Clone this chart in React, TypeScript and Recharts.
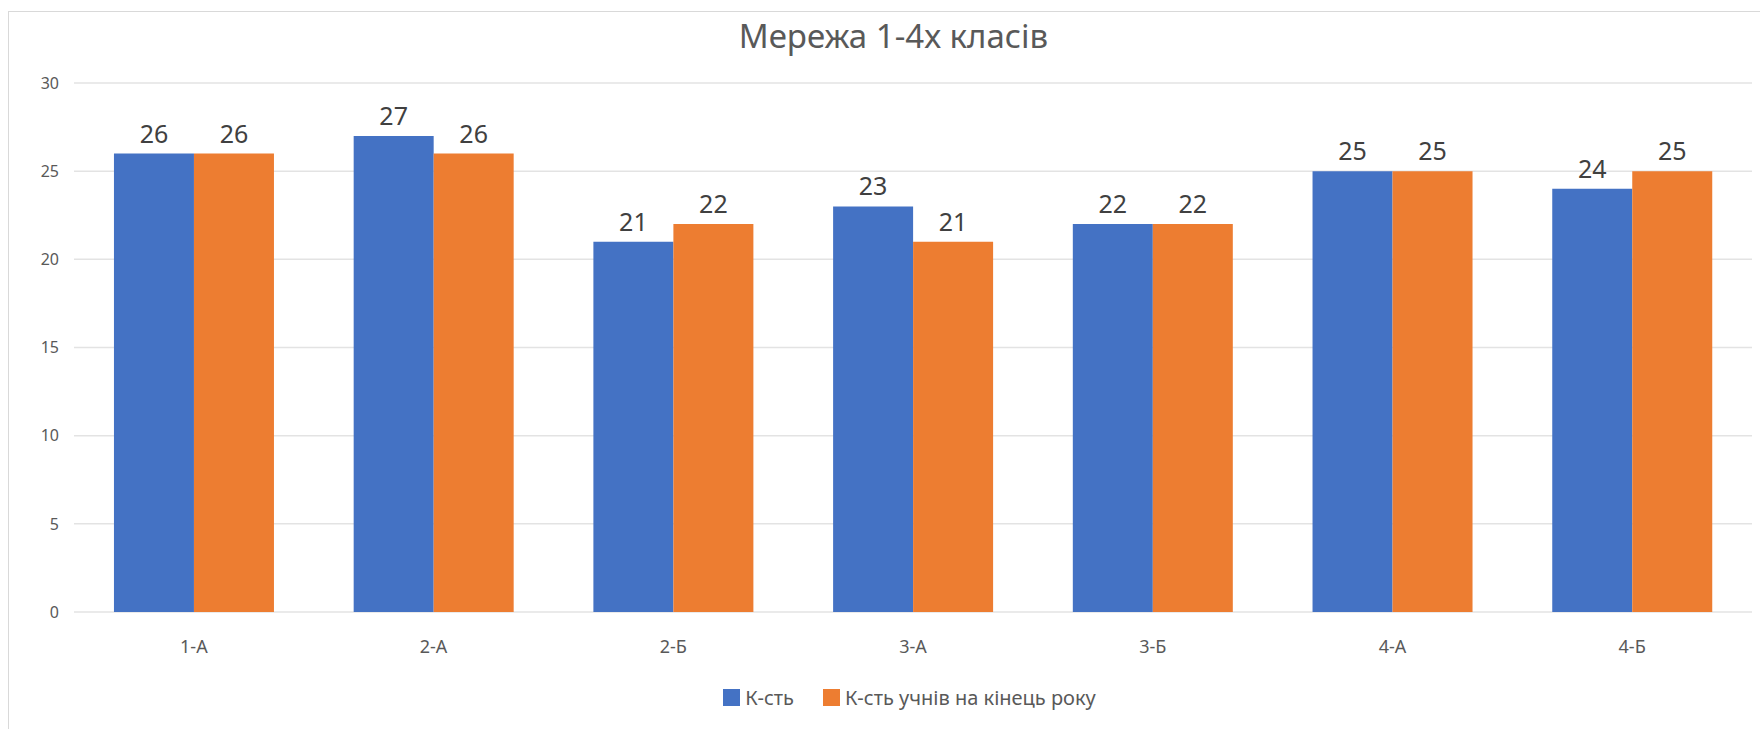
import React from 'react';
import { BarChart, Bar, XAxis, YAxis, CartesianGrid, Legend, LabelList } from 'recharts';

const classes = ['1-А', '2-А', '2-Б', '3-А', '3-Б', '4-А', '4-Б'];
const countStart = [26, 27, 21, 23, 22, 25, 24];
const countEnd = [26, 26, 22, 21, 22, 25, 25];
const yTicks = [0, 5, 10, 15, 20, 25, 30];

const seriesNames = ['К-сть', 'К-сть учнів на кінець року'];
const seriesColors = ['#4472C4', '#ED7D31'];

const data = classes.map((c, i) => ({ name: c, start: countStart[i], end: countEnd[i] }));

const font = '"Noto Sans", "Open Sans", sans-serif';

const renderLegend = () => (
    <div style={{
        display: 'flex',
        justifyContent: 'center',
        alignItems: 'center',
        height: 40,
        paddingLeft: 58,
        fontFamily: font,
        fontSize: 20,
        color: '#595959',
    }}>
        {seriesNames.map((n, i) => (
            <div key={n} style={{ display: 'flex', alignItems: 'center', marginRight: i === 0 ? 29 : 0 }}>
                <span style={{ width: 17, height: 17, background: seriesColors[i], marginRight: 5, display: 'inline-block' }} />
                <span>{n}</span>
            </div>
        ))}
    </div>
);

export default function App() {
    return (
        <div style={{
            position: 'absolute',
            left: 8,
            top: 11,
            width: 1752,
            height: 718,
            borderTop: '1px solid #d9d9d9',
            borderLeft: '1px solid #d9d9d9',
            boxSizing: 'border-box',
            overflow: 'hidden',
            background: '#fff',
        }}>
            <div style={{
                position: 'absolute',
                left: 9,
                width: 1751,
                top: 1,
                textAlign: 'center',
                fontFamily: font,
                fontSize: 33,
                color: '#595959',
            }}>
                Мережа 1-4х класів
            </div>
            <BarChart
                width={1751}
                height={717}
                data={data}
                margin={{ top: 71, right: 8, left: 0, bottom: 12 }}
                barCategoryGap="16.67%"
                barGap={0}
            >
                <CartesianGrid vertical={false} stroke="#e3e3e3" strokeWidth={1.5} />
                <XAxis
                    dataKey="name"
                    axisLine={false}
                    tickLine={false}
                    height={65}
                    tickMargin={22}
                    tick={{ fill: '#595959', fontSize: 18, fontFamily: font }}
                />
                <YAxis
                    domain={[0, 30]}
                    ticks={yTicks}
                    width={65}
                    axisLine={false}
                    tickLine={false}
                    tickMargin={9}
                    tick={{ fill: '#595959', fontSize: 16, fontFamily: font }}
                />
                <Legend verticalAlign="bottom" content={renderLegend} />
                <Bar dataKey="start" name={seriesNames[0]} fill={seriesColors[0]} isAnimationActive={false}>
                    <LabelList dataKey="start" position="top" offset={11} fill="#404040" fontSize={25} fontFamily={font} />
                </Bar>
                <Bar dataKey="end" name={seriesNames[1]} fill={seriesColors[1]} isAnimationActive={false}>
                    <LabelList dataKey="end" position="top" offset={11} fill="#404040" fontSize={25} fontFamily={font} />
                </Bar>
            </BarChart>
        </div>
    );
}
